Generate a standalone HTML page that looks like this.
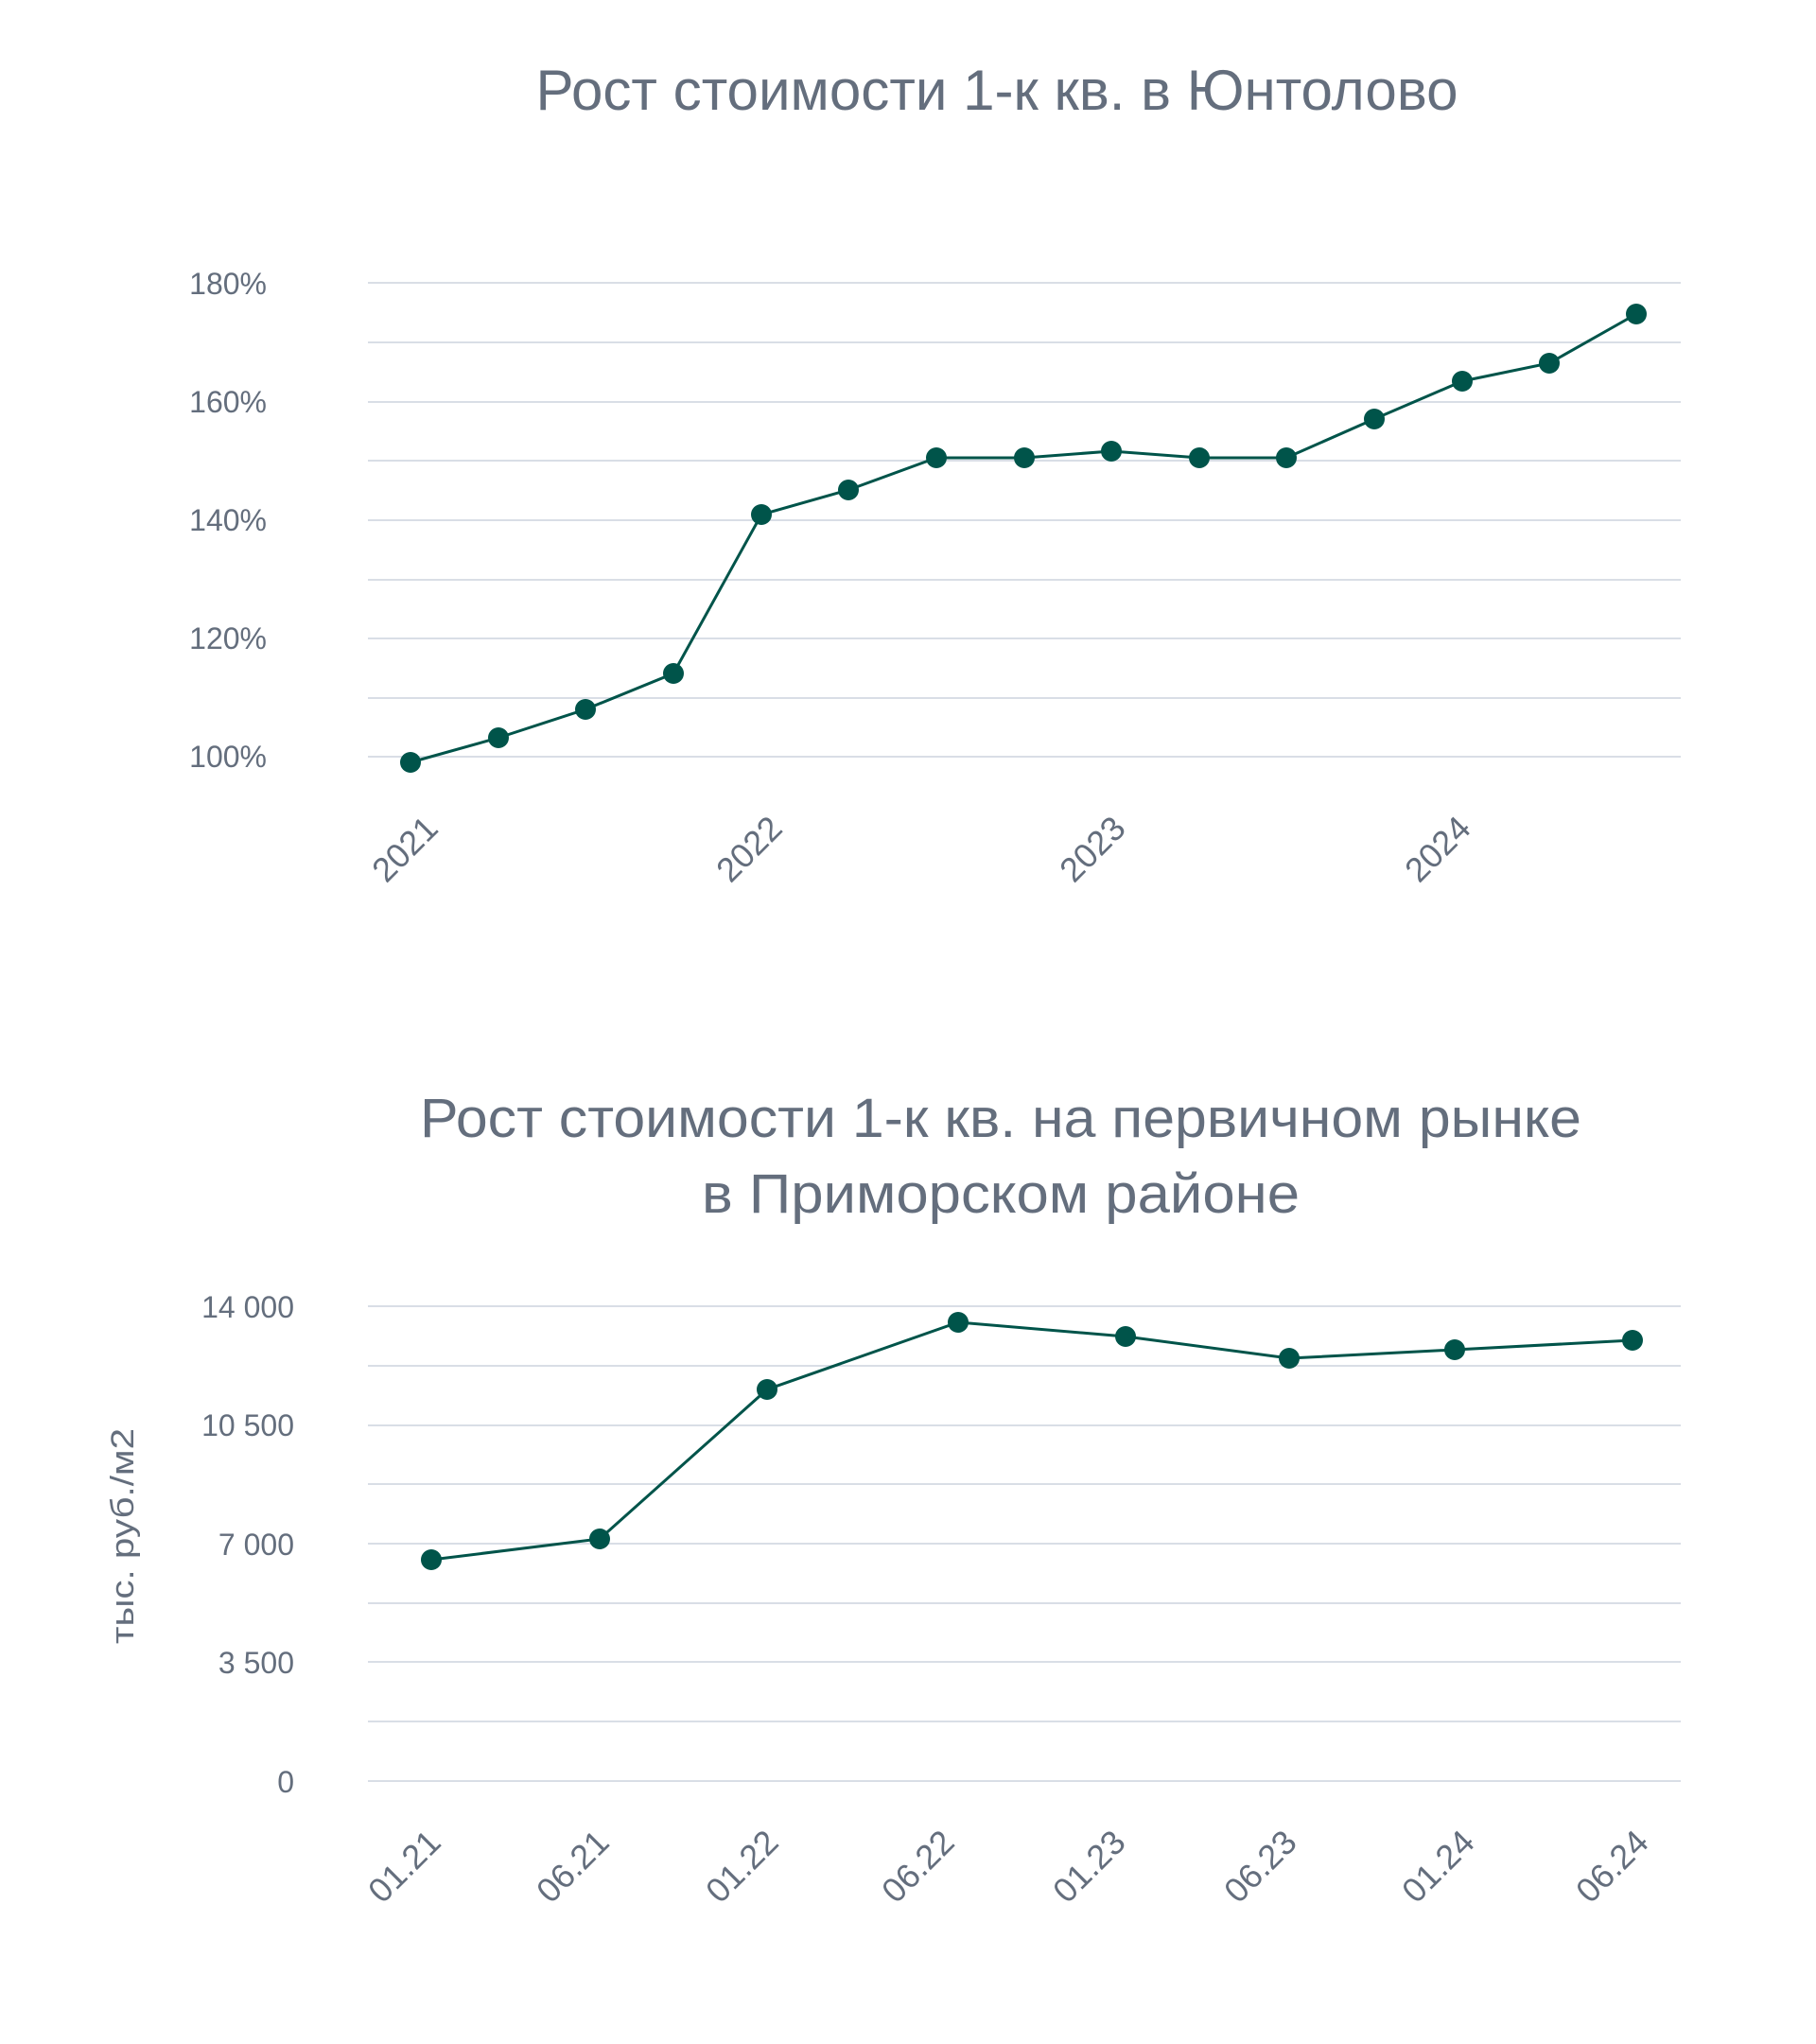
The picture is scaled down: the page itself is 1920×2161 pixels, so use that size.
<!DOCTYPE html>
<html><head><meta charset="utf-8"><style>
html,body{margin:0;padding:0;background:#fff;}
svg{display:block;}
text{font-family:"Liberation Sans",sans-serif;fill:#646e7d;}
</style></head><body>
<svg width="1920" height="2161" viewBox="0 0 1920 2161" xmlns="http://www.w3.org/2000/svg">
<text x="1054" y="116" font-size="60" text-anchor="middle" textLength="975" lengthAdjust="spacingAndGlyphs">Рост стоимости 1-к кв. в Юнтолово</text>
<g stroke="#d9dee6" stroke-width="2">
<line x1="389" x2="1777" y1="299" y2="299"/><line x1="389" x2="1777" y1="362" y2="362"/>
<line x1="389" x2="1777" y1="425" y2="425"/><line x1="389" x2="1777" y1="487" y2="487"/>
<line x1="389" x2="1777" y1="550" y2="550"/><line x1="389" x2="1777" y1="613" y2="613"/>
<line x1="389" x2="1777" y1="675" y2="675"/><line x1="389" x2="1777" y1="738" y2="738"/>
<line x1="389" x2="1777" y1="800" y2="800"/>
</g>
<g font-size="32" text-anchor="end">
<text x="282" y="311">180%</text><text x="282" y="436">160%</text><text x="282" y="561">140%</text><text x="282" y="686">120%</text><text x="282" y="811">100%</text>
</g>
<g font-size="36" text-anchor="end">
<text transform="translate(465,878) rotate(-45)">2021</text>
<text transform="translate(829,878) rotate(-45)">2022</text>
<text transform="translate(1192,878) rotate(-45)">2023</text>
<text transform="translate(1557,878) rotate(-45)">2024</text>
</g>
<polyline fill="none" stroke="#00544a" stroke-width="3" points="434,806 527,780 619,750 712,712 805,544 897,518 990,484 1083,484 1175,477 1268,484 1360,484 1453,443 1546,403 1638,384 1730,332"/>
<g fill="#00544a">
<circle cx="434" cy="806" r="11"/><circle cx="527" cy="780" r="11"/><circle cx="619" cy="750" r="11"/><circle cx="712" cy="712" r="11"/><circle cx="805" cy="544" r="11"/><circle cx="897" cy="518" r="11"/><circle cx="990" cy="484" r="11"/><circle cx="1083" cy="484" r="11"/><circle cx="1175" cy="477" r="11"/><circle cx="1268" cy="484" r="11"/><circle cx="1360" cy="484" r="11"/><circle cx="1453" cy="443" r="11"/><circle cx="1546" cy="403" r="11"/><circle cx="1638" cy="384" r="11"/><circle cx="1730" cy="332" r="11"/>
</g>

<text x="1058" y="1202" font-size="58" text-anchor="middle" textLength="1228" lengthAdjust="spacingAndGlyphs">Рост стоимости 1-к кв. на первичном рынке</text>
<text x="1058" y="1282" font-size="58" text-anchor="middle" textLength="632" lengthAdjust="spacingAndGlyphs">в Приморском районе</text>
<g stroke="#d9dee6" stroke-width="2">
<line x1="389" x2="1777" y1="1381" y2="1381"/><line x1="389" x2="1777" y1="1444" y2="1444"/>
<line x1="389" x2="1777" y1="1507" y2="1507"/><line x1="389" x2="1777" y1="1569" y2="1569"/>
<line x1="389" x2="1777" y1="1632" y2="1632"/><line x1="389" x2="1777" y1="1695" y2="1695"/>
<line x1="389" x2="1777" y1="1757" y2="1757"/><line x1="389" x2="1777" y1="1820" y2="1820"/>
<line x1="389" x2="1777" y1="1883" y2="1883"/>
</g>
<g font-size="32" text-anchor="end">
<text x="311" y="1393">14 000</text><text x="311" y="1518">10 500</text><text x="311" y="1644">7 000</text><text x="311" y="1769">3 500</text><text x="311" y="1895">0</text>
</g>
<text transform="translate(141,1624) rotate(-90)" font-size="34" text-anchor="middle" textLength="228" lengthAdjust="spacingAndGlyphs">тыс. руб./м2</text>
<g font-size="36" text-anchor="end">
<text transform="translate(468,1950) rotate(-45)">01.21</text>
<text transform="translate(646,1950) rotate(-45)">06.21</text>
<text transform="translate(825,1950) rotate(-45)">01.22</text>
<text transform="translate(1011,1950) rotate(-45)">06.22</text>
<text transform="translate(1192,1950) rotate(-45)">01.23</text>
<text transform="translate(1373,1950) rotate(-45)">06.23</text>
<text transform="translate(1561,1950) rotate(-45)">01.24</text>
<text transform="translate(1745,1950) rotate(-45)">06.24</text>
</g>
<polyline fill="none" stroke="#00544a" stroke-width="3" points="456,1649 634,1627 811,1469 1013,1398 1190,1413 1363,1436 1538,1427 1726,1417"/>
<g fill="#00544a">
<circle cx="456" cy="1649" r="11"/><circle cx="634" cy="1627" r="11"/><circle cx="811" cy="1469" r="11"/><circle cx="1013" cy="1398" r="11"/><circle cx="1190" cy="1413" r="11"/><circle cx="1363" cy="1436" r="11"/><circle cx="1538" cy="1427" r="11"/><circle cx="1726" cy="1417" r="11"/>
</g>
</svg>
</body></html>
